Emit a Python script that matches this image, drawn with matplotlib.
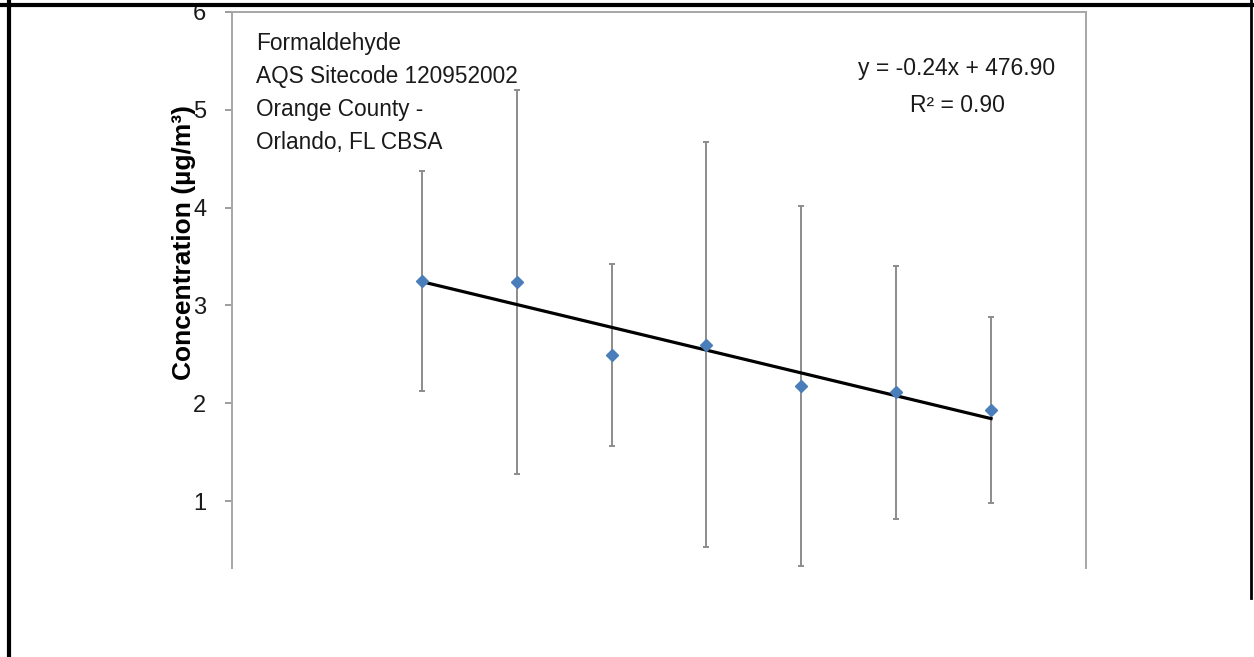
import numpy as np
import matplotlib
matplotlib.use("Agg")
import matplotlib.pyplot as plt
from matplotlib.lines import Line2D

plt.rcParams['font.family'] = ['Liberation Sans', 'DejaVu Sans']

# data (x axis cut off; years assumed from fit equation)
years = [2009, 2010, 2011, 2012, 2013, 2014, 2015]
conc = [3.25, 3.24, 2.49, 2.60, 2.18, 2.11, 1.93]
conc_err = [1.12, 1.96, 0.93, 2.07, 1.84, 1.29, 0.95]
y_ticks = [1, 2, 3, 4, 5, 6]
site_text = "Formaldehyde\nAQS Sitecode 120952002\nOrange County -\nOrlando, FL CBSA"
eq_text = "y = -0.24x + 476.90\nR\u00b2 = 0.90"

fig = plt.figure(figsize=(12.54, 6.57), dpi=100)
ax = fig.add_axes([0.185, 0.136, 0.681, 0.846])

ax.errorbar(years, conc, yerr=conc_err, fmt='none', ecolor='#8c8c8c',
            elinewidth=1.4, capsize=2.4, capthick=1.4, zorder=2)
ax.plot(years, conc, linestyle='none', marker='D', markersize=5.8,
        color='#4a7ebb', zorder=4)

# linear trendline over the data range
slope, icpt = np.polyfit(years, conc, 1)
xs = np.array([years[0], years[-1]])
ax.plot(xs, slope * xs + icpt, color='black', linewidth=2.3, zorder=3)

ax.set_xlim(2007, 2016)
ax.set_ylim(0.32, 6)
ax.set_yticks(y_ticks)
ax.set_xticks([])
ax.tick_params(axis='y', labelsize=17, length=5, width=1.2, color='#8c8c8c',
               pad=13.5, labelcolor='#1a1a1a')
for side in ['left', 'top', 'right']:
    ax.spines[side].set_color('#a6a6a6')
    ax.spines[side].set_linewidth(1.4)
ax.spines['bottom'].set_visible(False)

ax.set_ylabel("Concentration (\u00b5g/m\u00b3)", fontsize=19, fontweight='bold')
ax.yaxis.set_label_coords(-0.0425, 0.585)

ax.text(0.028, 0.964, site_text, transform=ax.transAxes, fontsize=16.3,
        va='top', ha='left', linespacing=1.56, color='#1a1a1a')
ax.text(0.849, 0.919, eq_text, transform=ax.transAxes, fontsize=16.5,
        va='top', ha='center', linespacing=1.8, color='#1a1a1a')

# page frame around the pasted chart
fig.add_artist(Line2D([0.0, 1.0], [0.993, 0.993], color='black', linewidth=3,
                      transform=fig.transFigure))
fig.add_artist(Line2D([0.0068, 0.0068], [0.0, 1.0], color='black', linewidth=3,
                      transform=fig.transFigure))
fig.add_artist(Line2D([0.998, 0.998], [0.09, 1.0], color='black', linewidth=2,
                      transform=fig.transFigure))

fig.savefig("out.png", dpi=100)
